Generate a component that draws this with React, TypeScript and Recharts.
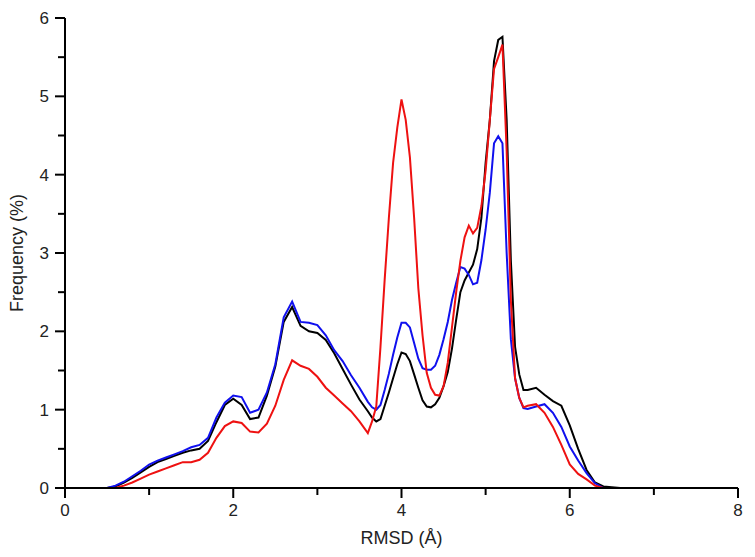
import { LineChart, Line, XAxis, YAxis, Label } from 'recharts'

// RMSD bin centres (Å)
const rmsd = [
  0.5, 0.6, 0.7, 0.8, 0.9, 1.0, 1.1, 1.2, 1.3, 1.4, 1.5, 1.6, 1.7, 1.8, 1.9, 2.0,
  2.1, 2.2, 2.3, 2.4, 2.5, 2.6, 2.7, 2.8, 2.9, 3.0, 3.1, 3.2, 3.3, 3.4, 3.5, 3.6,
  3.65, 3.7, 3.75, 3.8, 3.85, 3.9, 3.95, 4.0, 4.05, 4.1, 4.15, 4.2, 4.25, 4.3, 4.35, 4.4,
  4.45, 4.5, 4.55, 4.6, 4.65, 4.7, 4.75, 4.8, 4.85, 4.9, 4.95, 5.0, 5.05, 5.1, 5.15, 5.2,
  5.25, 5.3, 5.35, 5.4, 5.45, 5.5, 5.6, 5.7, 5.8, 5.9, 6.0, 6.1, 6.2, 6.3, 6.4, 6.5, 6.6,
]

const blackFreq = [
  0.0, 0.02, 0.07, 0.13, 0.2, 0.27, 0.33, 0.37, 0.41, 0.45, 0.48, 0.5, 0.6, 0.84, 1.06, 1.14,
  1.06, 0.88, 0.9, 1.18, 1.55, 2.12, 2.31, 2.07, 2.0, 1.98, 1.89, 1.72, 1.52, 1.32, 1.13, 0.98,
  0.9, 0.85, 0.88, 1.05, 1.22, 1.4, 1.58, 1.73, 1.71, 1.62, 1.45, 1.28, 1.12, 1.04, 1.03, 1.07,
  1.15, 1.3, 1.48, 1.78, 2.15, 2.5, 2.65, 2.75, 2.85, 3.05, 3.45, 4.15, 4.7, 5.45, 5.72, 5.76,
  4.7, 2.9, 1.8, 1.45, 1.25, 1.25, 1.28, 1.19, 1.11, 1.05, 0.8, 0.5, 0.23, 0.07, 0.02, 0.01, 0.0,
]

const blueFreq = [
  0.0, 0.03, 0.08, 0.15, 0.22, 0.3, 0.35, 0.39, 0.43, 0.47, 0.52, 0.55, 0.64, 0.9, 1.09, 1.18,
  1.16, 0.96, 1.0, 1.22, 1.58, 2.18, 2.38, 2.12, 2.11, 2.08, 1.95, 1.76, 1.62, 1.44, 1.28, 1.1,
  1.03, 1.0, 1.06, 1.25, 1.46, 1.7, 1.92, 2.11, 2.11, 2.05, 1.85, 1.65, 1.53, 1.51, 1.51, 1.56,
  1.7, 1.9, 2.12, 2.4, 2.62, 2.82, 2.8, 2.72, 2.6, 2.62, 2.91, 3.3, 3.77, 4.4, 4.49, 4.4,
  3.0, 1.9, 1.4, 1.15, 1.02, 1.01, 1.04, 1.07, 0.96, 0.78, 0.53, 0.35, 0.19, 0.06, 0.0, null, null,
]

const redFreq = [
  null, 0.0, 0.03, 0.07, 0.12, 0.17, 0.21, 0.25, 0.29, 0.33, 0.33, 0.36, 0.45, 0.64, 0.79, 0.85,
  0.83, 0.72, 0.71, 0.82, 1.05, 1.38, 1.63, 1.56, 1.52, 1.42, 1.28, 1.18, 1.08, 0.98, 0.85, 0.7,
  0.85, 1.04, 1.8, 2.66, 3.45, 4.15, 4.6, 4.96, 4.7, 4.22, 3.45, 2.55, 1.95, 1.47, 1.28, 1.19,
  1.18, 1.3, 1.6, 2.05, 2.5, 2.9, 3.2, 3.35, 3.25, 3.32, 3.6, 4.05, 4.7, 5.35, 5.5, 5.66,
  4.3, 2.4, 1.4, 1.15, 1.03, 1.05, 1.07, 0.96, 0.78, 0.55, 0.3, 0.18, 0.11, 0.03, 0.0, null, null,
]

const xTicks = [0, 1, 2, 3, 4, 5, 6, 7, 8]
const yTicks = [0, 0.5, 1, 1.5, 2, 2.5, 3, 3.5, 4, 4.5, 5, 5.5, 6]

const data = rmsd.map((x, i) => ({
  x,
  black: blackFreq[i],
  blue: blueFreq[i],
  red: redFreq[i],
}))

const font = '"Liberation Sans", Arial, sans-serif'

const XTick = (props: any) => {
  const { x, y, payload } = props
  const major = payload.value % 2 === 0
  return (
    <g>
      <line x1={x} x2={x} y1={y} y2={y + (major ? 10 : 7)} stroke="#000" strokeWidth={2} />
      {major && (
        <text x={x} y={y + 28} textAnchor="middle" fontSize={17} fontFamily={font} fill="#222">
          {payload.value}
        </text>
      )}
    </g>
  )
}

const YTick = (props: any) => {
  const { x, y, payload } = props
  const major = Number.isInteger(payload.value)
  return (
    <g>
      <line x1={x - (major ? 10 : 7)} x2={x} y1={y} y2={y} stroke="#000" strokeWidth={2} />
      {major && (
        <text x={x - 16} y={y + 6} textAnchor="end" fontSize={17} fontFamily={font} fill="#222">
          {payload.value}
        </text>
      )}
    </g>
  )
}

export default function App() {
  return (
    <div style={{ position: 'absolute', left: 0, top: 0, background: '#fff' }}>
      <LineChart
        width={755}
        height={557}
        data={data}
        margin={{ top: 18, right: 17, bottom: 19, left: 0 }}
      >
        <XAxis
          dataKey="x"
          type="number"
          domain={[0, 8]}
          ticks={xTicks}
          interval={0}
          tick={<XTick />}
          tickLine={false}
          tickSize={0}
          tickMargin={0}
          height={50}
          axisLine={{ stroke: '#000', strokeWidth: 2 }}
        >
          <Label
            value="RMSD (Å)"
            position="insideBottom"
            offset={-6}
            style={{ fontSize: 18, fontFamily: font, fill: '#222' }}
          />
        </XAxis>
        <YAxis
          type="number"
          domain={[0, 6]}
          ticks={yTicks}
          interval={0}
          tick={<YTick />}
          tickLine={false}
          tickSize={0}
          tickMargin={0}
          width={65}
          axisLine={{ stroke: '#000', strokeWidth: 2 }}
        >
          <Label
            value="Frequency (%)"
            angle={-90}
            position="insideLeft"
            offset={17}
            style={{ fontSize: 18, fontFamily: font, fill: '#222', textAnchor: 'middle' }}
          />
        </YAxis>
        <Line dataKey="black" type="linear" stroke="#000" strokeWidth={2} dot={false} isAnimationActive={false} />
        <Line dataKey="blue" type="linear" stroke="#1010ee" strokeWidth={2} dot={false} isAnimationActive={false} />
        <Line dataKey="red" type="linear" stroke="#ee1111" strokeWidth={2} dot={false} isAnimationActive={false} />
      </LineChart>
    </div>
  )
}
